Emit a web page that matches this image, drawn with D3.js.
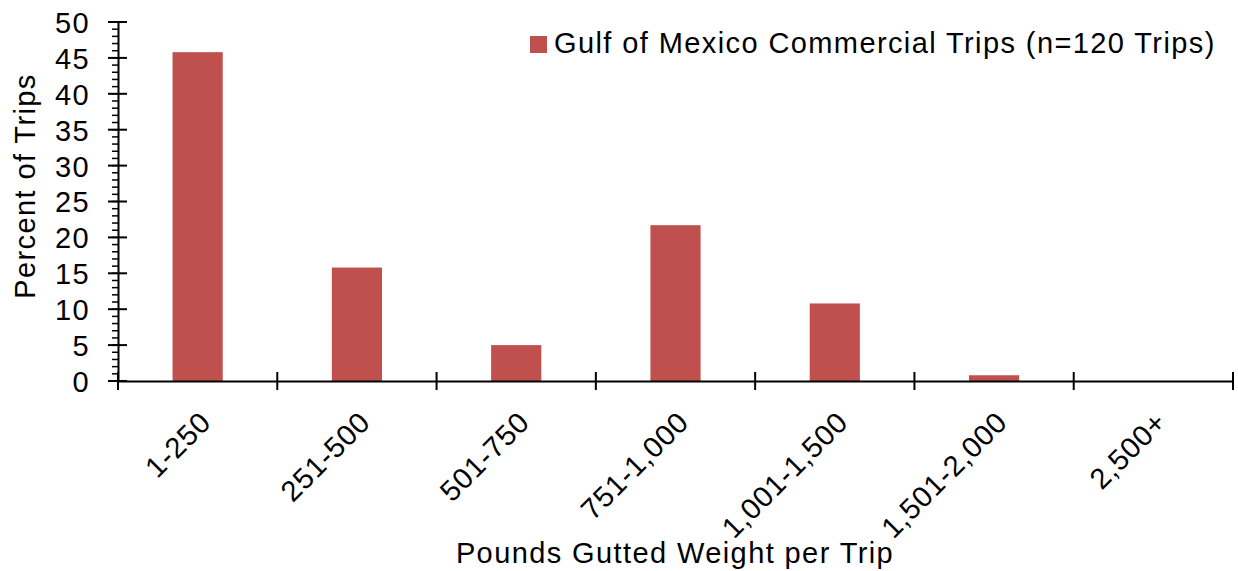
<!DOCTYPE html>
<html>
<head>
<meta charset="utf-8">
<script src="https://cdn.jsdelivr.net/npm/d3@7"></script>
<style>
  body { margin: 0; background: #fff; }
  text { font-family: "Liberation Sans", Arial, sans-serif; fill: #000; letter-spacing: 1.4px; }
  text.lbl { letter-spacing: 0.8px; }
</style>
</head>
<body>
<div id="chart"></div>
<script>
// Categorias y valores (porcentaje de viajes)
const categories = ['1-250', '251-500', '501-750', '751-1,000', '1,001-1,500', '1,501-2,000', '2,500+'];
const percentValues = [45.8, 15.8, 5.0, 21.7, 10.8, 0.8, 0];
const yTicks = [0, 5, 10, 15, 20, 25, 30, 35, 40, 45, 50];
const seriesName = 'Gulf of Mexico Commercial Trips (n=120 Trips)';

const W = 1238, H = 571;
const margin = { top: 22, right: 5, bottom: 190, left: 118 };
const width = W - margin.left - margin.right;
const height = H - margin.top - margin.bottom;
const fontSize = '29px';

const svg = d3.select('#chart').append('svg')
    .attr('width', W)
    .attr('height', H);

const g = svg.append('g')
    .attr('transform', `translate(${margin.left},${margin.top})`);

// Escalas
const x = d3.scaleBand()
    .domain(categories)
    .range([0, width])
    .padding(0);

const y = d3.scaleLinear()
    .domain([0, 50])
    .range([height, 0]);

const barW = x.bandwidth() * 0.315;

// Barras
g.selectAll('.bar')
    .data(categories.map((c, i) => ({ name: c, value: percentValues[i] })))
    .enter().append('rect')
    .attr('class', 'bar')
    .attr('x', d => x(d.name) + (x.bandwidth() - barW) / 2)
    .attr('width', barW)
    .attr('y', d => y(d.value))
    .attr('height', d => height - y(d.value))
    .attr('fill', '#C0504D');

// Eje Y: ticks menores
g.append('g')
    .selectAll('line')
    .data(d3.range(0, 51, 1))
    .enter().append('line')
    .attr('x1', -6).attr('x2', 0)
    .attr('y1', d => y(d)).attr('y2', d => y(d))
    .attr('stroke', '#000').attr('stroke-width', 1.5);

// Eje Y: ticks mayores
const yAxis = g.append('g')
    .call(d3.axisLeft(y).tickValues(yTicks).tickSize(0).tickPadding(28));
yAxis.select('.domain').attr('stroke', '#000').attr('stroke-width', 2);
yAxis.selectAll('.tick line').remove();
yAxis.selectAll('.tick text').style('font-size', fontSize).attr('dy', '0.36em');
g.append('g')
    .selectAll('line')
    .data(yTicks)
    .enter().append('line')
    .attr('x1', -10).attr('x2', 9)
    .attr('y1', d => y(d)).attr('y2', d => y(d))
    .attr('stroke', '#000').attr('stroke-width', 2);

// Eje X
const xAxis = g.append('g')
    .attr('transform', `translate(0,${height})`)
    .call(d3.axisBottom(x).tickSize(0).tickFormat(''));
xAxis.select('.domain').attr('stroke', '#000').attr('stroke-width', 2);

const bounds = categories.map(c => x(c)).concat([width]);
xAxis.selectAll('.sep')
    .data(bounds)
    .enter().append('line')
    .attr('class', 'sep')
    .attr('x1', d => d).attr('x2', d => d)
    .attr('y1', -9).attr('y2', 9)
    .attr('stroke', '#000').attr('stroke-width', 2);

xAxis.selectAll('.lbl')
    .data(categories)
    .enter().append('text')
    .attr('class', 'lbl')
    .attr('transform', d => `translate(${x(d) + x.bandwidth() / 2 + 15},43) rotate(-45)`)
    .attr('text-anchor', 'end')
    .style('font-size', fontSize)
    .text(d => d);

// Etiquetas de los ejes
svg.append('text')
    .attr('transform', 'translate(35,186) rotate(-90)')
    .attr('text-anchor', 'middle')
    .style('font-size', fontSize)
    .text('Percent of Trips');

svg.append('text')
    .attr('x', 675)
    .attr('y', 563)
    .attr('text-anchor', 'middle')
    .style('font-size', fontSize)
    .text('Pounds Gutted Weight per Trip');

// Leyenda
const legend = svg.append('g').attr('transform', 'translate(530,36)');
legend.append('rect')
    .attr('width', 17).attr('height', 17)
    .attr('fill', '#C0504D');
legend.append('text')
    .attr('x', 24).attr('y', 17)
    .style('font-size', fontSize)
    .text(seriesName);
</script>
</body>
</html>
